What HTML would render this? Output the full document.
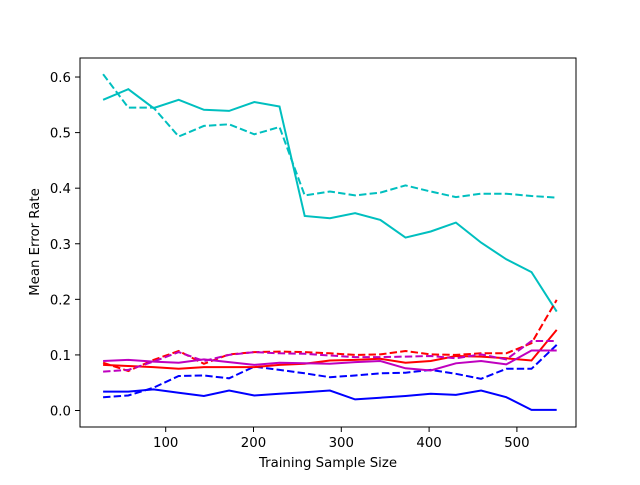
<!DOCTYPE html>
<html><head><meta charset="utf-8"><style>
body{margin:0;background:#fff}
svg text{font-family:"DejaVu Sans","Liberation Sans",sans-serif;font-size:13.3px;fill:#000}
</style></head><body>
<svg id="chart" width="640" height="480" xmlns="http://www.w3.org/2000/svg">
<rect width="640" height="480" fill="#fff"/>
<g id="plot"></g>
<rect x="80" y="58" width="496" height="369" fill="none" stroke="#000" stroke-width="1"/>
<g id="axes"></g>
<text x="328" y="467" text-anchor="middle">Training Sample Size</text>
<text transform="translate(39,242) rotate(-90)" text-anchor="middle">Mean Error Rate</text>
</svg>
<script>
const xValues = [28.7,57.4,86.1,114.8,143.5,172.2,200.9,229.6,258.3,287,315.7,344.4,373.1,401.8,430.5,459.2,487.9,516.6,545.3];
const cyanSolid = [0.559,0.578,0.544,0.559,0.541,0.539,0.555,0.547,0.350,0.346,0.355,0.343,0.311,0.322,0.338,0.302,0.272,0.249,0.178];
const cyanDashed = [0.605,0.545,0.545,0.493,0.512,0.515,0.497,0.510,0.387,0.394,0.387,0.392,0.405,0.394,0.384,0.390,0.390,0.386,0.383];
const blueSolid = [0.034,0.034,0.038,0.032,0.026,0.036,0.027,0.030,0.033,0.036,0.020,0.023,0.026,0.030,0.028,0.036,0.024,0.001,0.001];
const blueDashed = [0.024,0.027,0.041,0.062,0.063,0.058,0.079,0.073,0.067,0.060,0.063,0.067,0.068,0.073,0.066,0.057,0.075,0.075,0.118];
const redSolid = [0.082,0.080,0.078,0.075,0.078,0.078,0.078,0.082,0.084,0.090,0.091,0.093,0.086,0.089,0.098,0.097,0.094,0.090,0.145];
const redDashed = [0.086,0.071,0.091,0.107,0.084,0.101,0.105,0.106,0.105,0.103,0.100,0.101,0.107,0.101,0.100,0.103,0.103,0.121,0.199];
const magentaSolid = [0.089,0.091,0.088,0.086,0.092,0.087,0.082,0.086,0.085,0.084,0.087,0.089,0.076,0.072,0.085,0.089,0.083,0.108,0.108];
const magentaDashed = [0.070,0.073,0.088,0.105,0.089,0.100,0.105,0.103,0.102,0.099,0.096,0.096,0.097,0.098,0.094,0.101,0.092,0.125,0.125];
const xTicks = [100,200,300,400,500];
const yTicks = [0.0,0.1,0.2,0.3,0.4,0.5,0.6];
const yTickLabels = ["0.0","0.1","0.2","0.3","0.4","0.5","0.6"];

const X0=77.9, XS=0.878, Y0=410.5, YS=555.8;
function xs(v){return X0+v*XS;}
function ys(v){return Y0-v*YS;}
const NS="http://www.w3.org/2000/svg";
const plot=document.getElementById('plot'), axes=document.getElementById('axes');
const seriesList=[
 [cyanSolid,'#00bfbf',false,'cyan-solid-line'],[cyanDashed,'#00bfbf',true,'cyan-dashed-line'],
 [blueSolid,'#0000ff',false,'blue-solid-line'],[blueDashed,'#0000ff',true,'blue-dashed-line'],
 [redSolid,'#ff0000',false,'red-solid-line'],[redDashed,'#ff0000',true,'red-dashed-line'],
 [magentaSolid,'#bf00bf',false,'magenta-solid-line'],[magentaDashed,'#bf00bf',true,'magenta-dashed-line']];
seriesList.forEach(s=>{
  const p=document.createElementNS(NS,'polyline');
  p.setAttribute('points',s[0].map((v,i)=>xs(xValues[i]).toFixed(1)+','+ys(v).toFixed(1)).join(' '));
  p.setAttribute('fill','none');p.setAttribute('stroke',s[1]);p.setAttribute('stroke-width','2');
  if(s[2])p.setAttribute('stroke-dasharray','7.4,3.2');
  
  
  plot.appendChild(p);
});
xTicks.forEach(t=>{
  const x=xs(t);
  const l=document.createElementNS(NS,'line');
  l.setAttribute('x1',x);l.setAttribute('x2',x);l.setAttribute('y1',427);l.setAttribute('y2',432);l.setAttribute('stroke','#000');
  
  
  axes.appendChild(l);
  const tx=document.createElementNS(NS,'text');
  tx.setAttribute('x',x);tx.setAttribute('y',447);tx.setAttribute('text-anchor','middle');tx.textContent=t;
  
  
  axes.appendChild(tx);
});
yTicks.forEach((t,i)=>{
  const y=ys(t);
  const l=document.createElementNS(NS,'line');
  l.setAttribute('x1',75);l.setAttribute('x2',80);l.setAttribute('y1',y);l.setAttribute('y2',y);l.setAttribute('stroke','#000');
  
  
  axes.appendChild(l);
  const tx=document.createElementNS(NS,'text');
  tx.setAttribute('x',71);tx.setAttribute('y',y+5);tx.setAttribute('text-anchor','end');tx.textContent=yTickLabels[i];
  
  
  axes.appendChild(tx);
});
</script>
</body></html>
